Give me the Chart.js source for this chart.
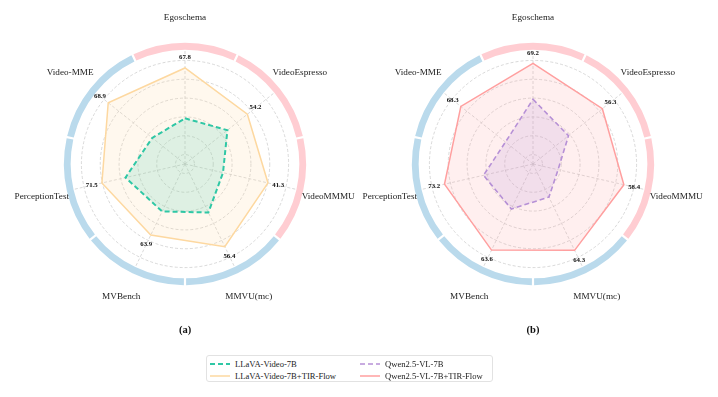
<!DOCTYPE html>
<html>
<head>
<meta charset="utf-8">
<script src="https://cdn.jsdelivr.net/npm/chart.js@4.4.1/dist/chart.umd.min.js"></script>
<style>
  html, body { margin: 0; padding: 0; background: #fff; }
  #wrap { position: relative; width: 718px; height: 397px; overflow: hidden; font-family: "Liberation Serif", "DejaVu Serif", serif; }
  canvas { position: absolute; top: 0; }
  #chartA { left: 0; }
  #chartB { left: 348px; }
  #legend { position: absolute; left: 206px; top: 355px; width: 287px; height: 27px;
            border: 1px solid #e2e2e2; border-radius: 3px; box-sizing: border-box; }
  .item { position: absolute; font-size: 8.6px; color: #222; line-height: 10px; white-space: nowrap; }
  .item svg { position: absolute; left: 0; top: 3px; }
  .item span { position: absolute; left: 25px; top: 0; }
</style>
</head>
<body>
<div id="wrap">
  <canvas id="chartA" width="370" height="340"></canvas>
  <canvas id="chartB" width="370" height="340"></canvas>
  <div id="legend"></div>
</div>
<script>
// benchmark axes, clockwise from the top
const categories = ["Egoschema", "VideoEspresso", "VideoMMMU", "MMVU(mc)", "MVBench", "PerceptionTest", "Video-MME"];

// plotted (normalised) positions, radial scale -10..110
const llavaBase = [38.5, 47.6, 31.4, 47.2, 45.9, 54.8, 34.5];
const llavaTir  = [92.0, 74.7, 80.4, 87.4, 73.8, 80.5, 94.3];
const qwenBase  = [58.7, 38.2, 17.3, 29.0, 43.0, 43.9, 27.4];
const qwenTir   = [96.9, 84.2, 89.0, 91.8, 91.5, 86.4, 88.0];

// scores printed next to the TIR-Flow points
const llavaTirScores = [67.8, 54.2, 41.3, 56.4, 63.9, 71.5, 68.9];
const qwenTirScores  = [69.2, 56.3, 58.4, 64.3, 63.6, 73.2, 68.3];

const seriesNames = ["LLaVA-Video-7B", "LLaVA-Video-7B+TIR-Flow", "Qwen2.5-VL-7B", "Qwen2.5-VL-7B+TIR-Flow"];
const panelTitles = ["(a)", "(b)"];

// ring colour for each axis
const PINK = "#ffcdd2";
const BLUE = "#badaec";
const ringColors = [PINK, PINK, PINK, BLUE, BLUE, BLUE, BLUE];

const styles = {
  llavaBase: { line: "#2fc7a5", fill: "rgba(47,199,165,0.16)", dash: [5, 3], width: 2 },
  llavaTir:  { line: "#fdd8a0", fill: "rgba(253,216,160,0.18)", dash: [], width: 1.5 },
  qwenBase:  { line: "#b690d6", fill: "rgba(182,144,214,0.18)", dash: [5, 3], width: 1.6 },
  qwenTir:   { line: "#ff9f9f", fill: "rgba(255,159,159,0.17)", dash: [], width: 1.5 }
};

const serif = '"Liberation Serif", "DejaVu Serif", serif';

// ring, axis names, score labels and panel title
const decorPlugin = {
  id: "decor",
  afterDraw(chart, args, opts) {
    const ctx = chart.ctx;
    const scale = chart.scales.r;
    const xc = scale.xCenter, yc = scale.yCenter, R = scale.drawingArea;
    const n = categories.length;
    const half = Math.PI / n;

    // outer coloured ring
    const rIn = R * 1.012, rOut = R * 1.072;
    const rMid = (rIn + rOut) / 2;
    const gap = 1.1 / rMid;
    ctx.save();
    ctx.lineWidth = rOut - rIn;
    for (let i = 0; i < n; i++) {
      const a = scale.getIndexAngle(i) - Math.PI / 2;
      ctx.beginPath();
      ctx.strokeStyle = ringColors[i];
      ctx.arc(xc, yc, rMid, a - half + gap, a + half - gap);
      ctx.stroke();
    }

    // axis names
    ctx.fillStyle = "#222";
    ctx.font = "9.2px " + serif;
    ctx.textAlign = "center";
    ctx.textBaseline = "middle";
    categories.forEach((name, i) => {
      const p = scale.getPointPosition(i, R * 1.3);
      ctx.fillText(name, p.x, p.y);
    });

    // score labels beside the TIR-Flow polygon
    const meta = chart.getDatasetMeta(1);
    ctx.font = "bold 6.8px " + serif;
    ctx.fillStyle = "#111";
    meta.data.forEach((pt, i) => {
      const dx = pt.x - xc, dy = pt.y - yc;
      const d = Math.hypot(dx, dy) || 1;
      const x = pt.x + dx / d * 10.5;
      const y = pt.y + dy / d * 10.5;
      ctx.fillText(opts.scores[i].toFixed(1), x, y);
    });

    // panel title
    ctx.font = "bold 10.5px " + serif;
    ctx.fillText(opts.title, xc, yc + 166);
    ctx.restore();
  }
};

function makeDataset(label, values, st) {
  return {
    label: label,
    data: values,
    borderColor: st.line,
    backgroundColor: st.fill,
    borderWidth: st.width,
    borderDash: st.dash,
    fill: "start",
    pointRadius: 0,
    tension: 0
  };
}

function makeRadar(canvasId, base, tir, scores, title) {
  const ctx = document.getElementById(canvasId);
  return new Chart(ctx, {
    type: "radar",
    data: {
      labels: categories,
      datasets: [base, tir]
    },
    options: {
      responsive: false,
      animation: false,
      layout: { padding: { left: 72, right: 72, top: 51, bottom: 63 } },
      plugins: {
        legend: { display: false },
        tooltip: { enabled: false },
        decor: { scores: scores, title: title }
      },
      scales: {
        r: {
          min: -10,
          max: 110,
          ticks: { display: false, stepSize: 10 },
          pointLabels: { display: false },
          grid: {
            circular: true,
            lineWidth: 0.7,
            borderDash: [3, 2],
            color: (c) => {
              const v = c.tick ? c.tick.value : 0;
              return (v >= 0 && v <= 100 && v % 20 === 0) ? "#c9c9c9" : "rgba(0,0,0,0)";
            }
          },
          border: { dash: [3, 2] },
          angleLines: { color: "#c9c9c9", lineWidth: 0.7, borderDash: [3, 2] }
        }
      }
    },
    plugins: [decorPlugin]
  });
}

makeRadar("chartA",
  makeDataset(seriesNames[0], llavaBase, styles.llavaBase),
  makeDataset(seriesNames[1], llavaTir, styles.llavaTir),
  llavaTirScores, panelTitles[0]);

makeRadar("chartB",
  makeDataset(seriesNames[2], qwenBase, styles.qwenBase),
  makeDataset(seriesNames[3], qwenTir, styles.qwenTir),
  qwenTirScores, panelTitles[1]);

// shared legend below both panels
const legendEl = document.getElementById("legend");
const legendItems = [
  { name: seriesNames[0], st: styles.llavaBase, x: 3, y: 3 },
  { name: seriesNames[1], st: styles.llavaTir, x: 3, y: 15 },
  { name: seriesNames[2], st: styles.qwenBase, x: 153, y: 3 },
  { name: seriesNames[3], st: styles.qwenTir, x: 153, y: 15 }
];
legendItems.forEach((it) => {
  const div = document.createElement("div");
  div.className = "item";
  div.style.left = it.x + "px";
  div.style.top = it.y + "px";
  const dash = it.st.dash.length ? `stroke-dasharray="${it.st.dash.join(" ")}"` : "";
  div.innerHTML = `<svg width="20" height="4"><line x1="0" y1="2" x2="20" y2="2" stroke="${it.st.line}" stroke-width="${it.st.width}" ${dash}/></svg><span>${it.name}</span>`;
  legendEl.appendChild(div);
});
</script>
</body>
</html>
